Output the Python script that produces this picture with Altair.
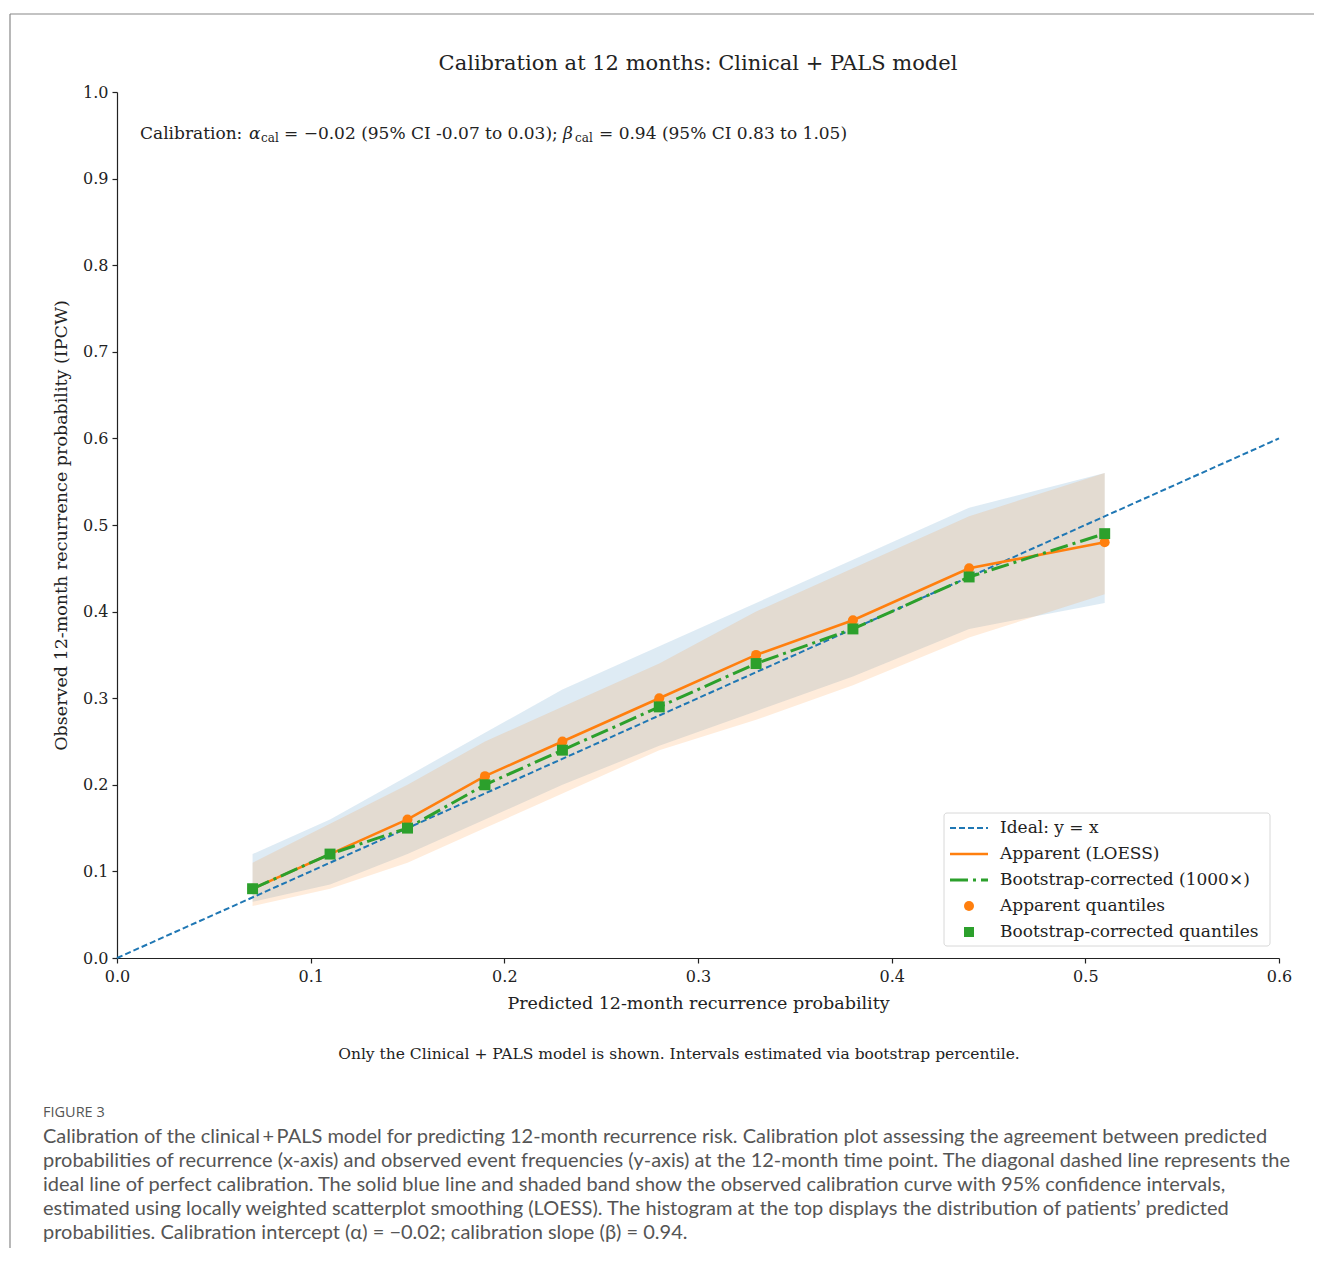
import altair as alt
import pandas as pd

# ---- data ----
x_pred = [0.07, 0.11, 0.15, 0.19, 0.23, 0.28, 0.33, 0.38, 0.44, 0.51]
apparent_obs = [0.08, 0.12, 0.16, 0.21, 0.25, 0.30, 0.35, 0.39, 0.45, 0.48]
boot_obs = [0.08, 0.12, 0.15, 0.20, 0.24, 0.29, 0.34, 0.38, 0.44, 0.49]
blue_lo = [0.065, 0.085, 0.12, 0.16, 0.20, 0.245, 0.285, 0.325, 0.38, 0.41]
blue_hi = [0.12, 0.16, 0.21, 0.26, 0.31, 0.36, 0.41, 0.46, 0.52, 0.56]
orange_lo = [0.06, 0.08, 0.11, 0.15, 0.19, 0.24, 0.275, 0.315, 0.37, 0.42]
orange_hi = [0.11, 0.155, 0.20, 0.25, 0.29, 0.34, 0.40, 0.45, 0.51, 0.56]
ideal_x = [0.0, 0.6]
x_ticks = [0.0, 0.1, 0.2, 0.3, 0.4, 0.5, 0.6]
y_ticks = [0.0, 0.1, 0.2, 0.3, 0.4, 0.5, 0.6, 0.7, 0.8, 0.9, 1.0]

legend_labels = ["Ideal: y = x", "Apparent (LOESS)", "Bootstrap-corrected (1000\u00d7)",
                 "Apparent quantiles", "Bootstrap-corrected quantiles"]

title_text = "Calibration at 12 months: Clinical + PALS model"
footnote = "Only the Clinical + PALS model is shown. Intervals estimated via bootstrap percentile."
caption_head = "FIGURE 3"
caption_lines = [
    "Calibration of the clinical\u2009+\u2009PALS model for predicting 12-month recurrence risk. Calibration plot assessing the agreement between predicted",
    "probabilities of recurrence (x-axis) and observed event frequencies (y-axis) at the 12-month time point. The diagonal dashed line represents the",
    "ideal line of perfect calibration. The solid blue line and shaded band show the observed calibration curve with 95% confidence intervals,",
    "estimated using locally weighted scatterplot smoothing (LOESS). The histogram at the top displays the distribution of patients\u2019 predicted",
    "probabilities. Calibration intercept (\u03b1) = \u22120.02; calibration slope (\u03b2) = 0.94.",
]

BLUE = "#1f77b4"
ORANGE = "#ff7f0e"
GREEN = "#2ca02c"
SERIF = "DejaVu Serif"
W, H = 1162, 866

df = pd.DataFrame({
    "x": x_pred, "app": apparent_obs, "boot": boot_obs,
    "blo": blue_lo, "bhi": blue_hi, "olo": orange_lo, "ohi": orange_hi,
})
ideal = pd.DataFrame({"x": ideal_x, "y": ideal_x})

xs = alt.Scale(domain=[0, 0.6], nice=False, zero=False)
ys = alt.Scale(domain=[0, 1.0], nice=False, zero=False)

base = alt.Chart(df)

band_blue = base.mark_area(color=BLUE, opacity=0.15).encode(
    x=alt.X("x:Q", scale=xs, axis=alt.Axis(
        values=x_ticks, format=".1f", title="Predicted 12-month recurrence probability",
        grid=False, domainColor="#222", tickColor="#222", tickSize=5, labelPadding=5,
        labelFlush=False, labelOverlap=False,
        labelFont=SERIF, labelFontSize=16, labelColor="#222",
        titleFont=SERIF, titleFontSize=17.5, titleFontWeight="normal", titleColor="#222",
        titlePadding=10)),
    y=alt.Y("blo:Q", scale=ys, axis=alt.Axis(
        values=y_ticks, format=".1f", title="Observed 12-month recurrence probability (IPCW)",
        grid=False, domainColor="#222", tickColor="#222", tickSize=5, labelPadding=4,
        labelFlush=False, labelOverlap=False,
        labelFont=SERIF, labelFontSize=16, labelColor="#222",
        titleFont=SERIF, titleFontSize=17.5, titleFontWeight="normal", titleColor="#222",
        titlePadding=12)),
    y2="bhi:Q",
)
band_orange = base.mark_area(color=ORANGE, opacity=0.15).encode(
    x=alt.X("x:Q", scale=xs), y=alt.Y("olo:Q", scale=ys), y2="ohi:Q")

ideal_line = alt.Chart(ideal).mark_line(color=BLUE, strokeWidth=2, strokeDash=[6, 3]).encode(
    x=alt.X("x:Q", scale=xs), y=alt.Y("y:Q", scale=ys))

app_line = base.mark_line(color=ORANGE, strokeWidth=2.6).encode(
    x=alt.X("x:Q", scale=xs), y=alt.Y("app:Q", scale=ys))
boot_line = base.mark_line(color=GREEN, strokeWidth=3, strokeDash=[18, 5, 3, 5]).encode(
    x=alt.X("x:Q", scale=xs), y=alt.Y("boot:Q", scale=ys))
app_pts = base.mark_point(shape="circle", filled=True, color=ORANGE, size=100, opacity=1).encode(
    x=alt.X("x:Q", scale=xs), y=alt.Y("app:Q", scale=ys))
boot_pts = base.mark_point(shape="square", filled=True, color=GREEN, size=120, opacity=1).encode(
    x=alt.X("x:Q", scale=xs), y=alt.Y("boot:Q", scale=ys))

one = pd.DataFrame({"k": [0]})


def txt(text, x, y, size=16, font=SERIF, align="left", color="#222", style="normal",
        baseline="middle", weight="normal"):
    kw = dict(text=text, align=align, baseline=baseline, font=font, fontSize=size,
              color=color, fontStyle=style, fontWeight=weight)
    return alt.Chart(one).mark_text(**kw).encode(x=alt.value(x), y=alt.value(y))


def hrule(x1, x2, y, color, width=1.0, dash=None):
    kw = dict(color=color, strokeWidth=width)
    if dash:
        kw["strokeDash"] = dash
    return alt.Chart(one).mark_rule(**kw).encode(x=alt.value(x1), x2=alt.value(x2), y=alt.value(y))


layers = [band_blue, band_orange, ideal_line, app_line, boot_line, app_pts, boot_pts]

# title
layers.append(txt(title_text, W / 2, -28, size=21, align="center"))

# calibration annotation with subscripts
ay = 42
layers += [
    txt("Calibration:", 23, ay, size=17),
    txt("\u03b1", 132, ay, size=17, style="italic"),
    txt("cal", 144, ay + 4, size=12),
    txt("= \u22120.02 (95% CI -0.07 to 0.03);", 167, ay, size=17),
    txt("\u03b2", 446, ay, size=17, style="italic"),
    txt("cal", 458, ay + 4, size=12),
    txt("= 0.94 (95% CI 0.83 to 1.05)", 482, ay, size=17),
]

# legend box
lx0, lx1, ly0, ly1 = 827, 1153, 721, 854
layers.append(alt.Chart(one).mark_rect(fill="white", fillOpacity=0.8, stroke="#d8d8d8",
                                        strokeWidth=1, cornerRadius=3).encode(
    x=alt.value(lx0), x2=alt.value(lx1), y=alt.value(ly0), y2=alt.value(ly1)))
rows = [736, 762, 788, 814, 840]
layers.append(hrule(833, 871, rows[0], BLUE, 2, [6, 3]))
layers.append(hrule(833, 871, rows[1], ORANGE, 2.6))
layers.append(hrule(833, 871, rows[2], GREEN, 3, [18, 5, 3, 5]))
layers.append(alt.Chart(one).mark_point(shape="circle", filled=True, color=ORANGE, size=100, opacity=1)
              .encode(x=alt.value(852), y=alt.value(rows[3])))
layers.append(alt.Chart(one).mark_point(shape="square", filled=True, color=GREEN, size=100, opacity=1)
              .encode(x=alt.value(852), y=alt.value(rows[4])))
for lab, ry in zip(legend_labels, rows):
    layers.append(txt(lab, 883, ry, size=17))

# footnote & caption
layers.append(txt(footnote, 562, 962, size=15.5, align="center"))
layers.append(txt(caption_head, -74, 1021, size=14.5, font="Open Sans", color="#555"))
for i, line in enumerate(caption_lines):
    layers.append(txt(line, -74, 1045 + 24 * i, size=20, font="Lato", color="#555"))

# frame lines of the page
layers.append(hrule(-107, 1200, -78, "#888", 1.2))
layers.append(alt.Chart(one).mark_rule(color="#888", strokeWidth=1.2).encode(
    x=alt.value(-107), y=alt.value(-78), y2=alt.value(1160)))

chart = alt.layer(*layers).properties(
    width=W, height=H,
    autosize=alt.AutoSizeParams(type="none"),
    padding={"left": 109, "top": 84, "right": 35, "bottom": 290},
).configure_view(stroke=None).configure_axis(domainWidth=1.2, tickWidth=1.2)

chart.save("out.html", embed_options={"renderer": "svg", "actions": False})
